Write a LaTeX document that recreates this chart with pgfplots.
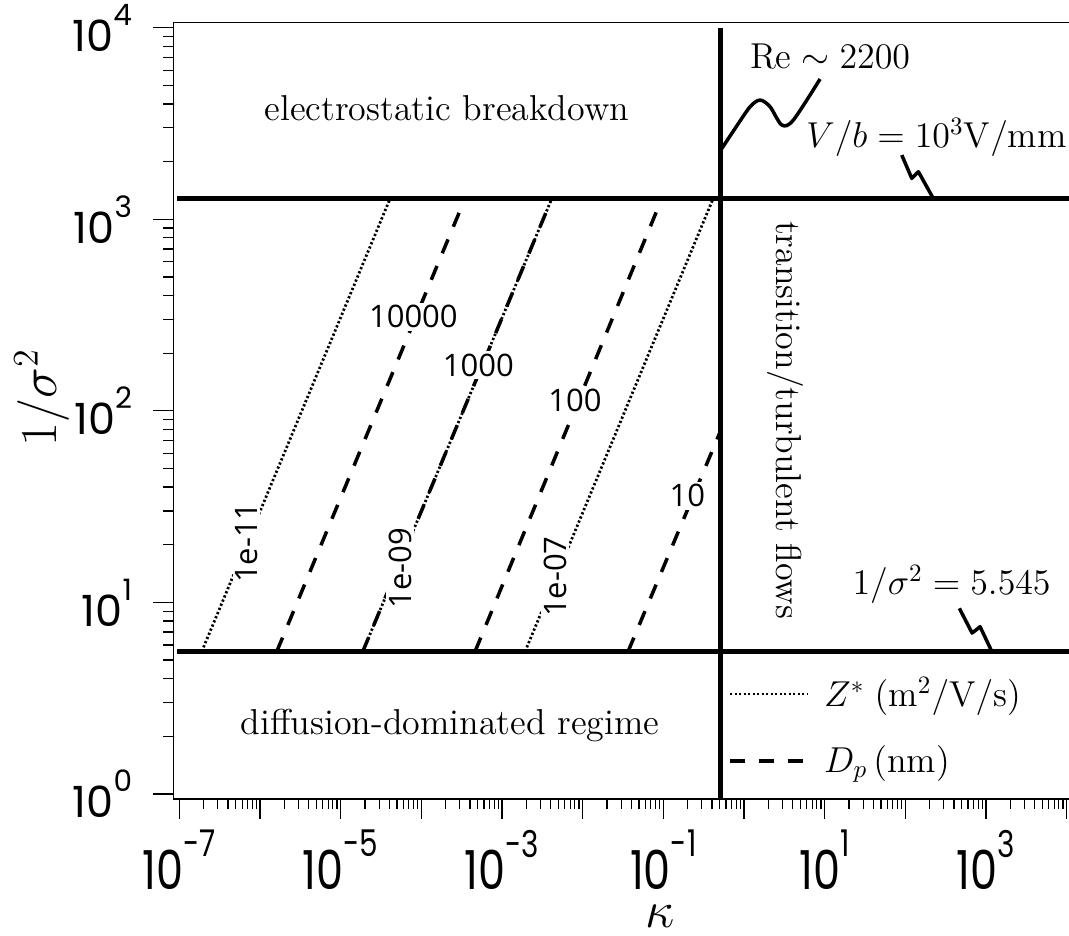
\documentclass[border=0pt]{standalone}
\usepackage{fontspec}
\usepackage{pgfplots}
\pgfplotsset{compat=1.18}
\newfontfamily\tickfont{Poppins}
\newfontfamily\clabfont{Open Sans}
\newcommand\annot{\fontsize{14.4}{17}\selectfont}
\newcommand\tlab[1]{{\tickfont\fontsize{17.2}{19}\selectfont 10\raisebox{10.4pt}{\fontsize{11.8}{12}\selectfont #1}}}

\tikzset{
  zstyle/.style={black, line width=1.1pt, dash pattern=on 0.9pt off 0.9pt},
  dstyle/.style={black, line width=1.4pt, dash pattern=on 6pt off 5.5pt},
  bound/.style={black, line width=2pt},
  clab/.style={font=\clabfont\fontsize{12.4}{14}\selectfont, fill=white, inner sep=1pt},
}

% minor ticks at 2..9 of every decade
\def\mxt{1e-7}
\foreach \ex in {-7,...,3}{\foreach \m in {2,...,9}{\xdef\mxt{\mxt,\m e\ex}}}
\def\myt{1}
\foreach \ex in {0,...,3}{\foreach \m in {2,...,9}{\xdef\myt{\myt,\m e\ex}}}

\begin{document}
\begin{tikzpicture}
\useasboundingbox (-69.33pt,-54.8pt) rectangle (358.28pt,319.6pt);
\begin{axis}[
  scale only axis, width=358.28pt, height=310.68pt,
  clip mode=individual,
  xmode=log, ymode=log, log basis x=10, log basis y=10,
  xmin=8.414e-8, xmax=10691, ymin=0.9419, ymax=10666,
  axis x line*=bottom, axis y line*=left,
  axis line style={line width=0.5pt},
  tick align=outside,
  major tick length=8pt, minor tick length=4pt,
  every tick/.style={black, line width=0.5pt},
  xtick={1e-7,1e-6,1e-5,1e-4,1e-3,1e-2,1e-1,1,10,100,1000,10000},
  ytick={1,10,100,1000,10000},
  minor xtick/.expanded={\mxt},
  minor ytick/.expanded={\myt},
  xticklabel={\pgfmathtruncatemacro\ex{round(\tick)}\ifodd\ex\relax\tlab{\ex}\fi},
  yticklabel={\pgfmathtruncatemacro\ex{round(\tick)}\tlab{\ex}},
  xticklabel style={yscale=1.25},
  yticklabel style={xshift=-5pt},
  ylabel={$1/\sigma^2$},
  every axis y label/.style={at={(rel axis cs:-0.1466,0.517)}, anchor=center, rotate=90, font=\fontsize{20.74}{24}\selectfont},
  legend style={draw=none, fill=none, at={(0.619,0.1635)}, anchor=north west,
    font=\annot, row sep=10pt, column sep=4pt, inner sep=0pt, cells={anchor=west}},
  legend image code/.code={\draw[#1] (0pt,0pt) -- (31pt,0pt);},
]
% boundaries
\addplot[bound, forget plot] coordinates {(9.4e-8,1281) (10691,1281)};
\addplot[bound, forget plot] coordinates {(9.4e-8,5.545) (10691,5.545)};
\addplot[bound, forget plot] coordinates {(0.515,0.9419) (0.515,10000)};

% contours
\addplot[zstyle, forget plot] coordinates {(1.897e-7,5.545) (4.093e-5,1281)}; % 1e-11
\addplot[dstyle, forget plot] coordinates {(1.614e-6,5.545) (3.475e-4,1281)}; % 10000
\addplot[zstyle, forget plot] coordinates {(1.879e-5,5.545) (4.140e-3,1281)}; % 1e-09
\addplot[dstyle, forget plot] coordinates {(1.879e-5,5.545) (4.140e-3,1281)}; % 1000
\addplot[dstyle, forget plot] coordinates {(4.634e-4,5.545) (9.572e-2,1281)}; % 100
\addplot[zstyle, forget plot] coordinates {(1.932e-3,5.545) (0.4140,1281)};   % 1e-07
\addplot[dstyle, forget plot] coordinates {(3.656e-2,5.545) (0.515,79)};      % 10

% callouts
\addplot[black, line width=1.4pt, smooth, forget plot] coordinates {
  (0.515,2296) (0.776,2980) (1.189,3864) (1.581,4188) (2.104,3864)
  (2.938,3105) (4.093,3296) (8.77,5395)};
\addplot[black, line width=1.4pt, line join=round, forget plot] coordinates {
  (90.3,2163) (120.2,1634) (145.2,1770) (222.8,1281)};
\addplot[black, line width=1.4pt, line join=round, forget plot] coordinates {
  (467.7,9.31) (673,6.92) (845,7.47) (1180,5.545)};

\addlegendimage{zstyle}
\addlegendentry{$Z^*\;(\mathrm{m}^2/\mathrm{V}/\mathrm{s})$}
\addlegendimage{dstyle}
\addlegendentry{$D_p\,(\mathrm{nm})$}

% contour labels
\node[clab, rotate=90] at (axis cs:6.85e-7,20.5) {1e-11};
\node[clab, rotate=90] at (axis cs:5.45e-5,15.07) {1e-09};
\node[clab, rotate=90] at (axis cs:4.55e-3,13.62) {1e-07};
\node[clab] at (axis cs:7.96e-5,309.9) {10000};
\node[clab] at (axis cs:5.09e-4,173.4) {1000};
\node[clab] at (axis cs:8.05e-3,113) {100};
\node[clab] at (axis cs:0.1986,36.06) {10};

% annotations
\node[font=\annot] at (axis cs:2.08e-4,3804) {electrostatic breakdown};
\node[font=\annot] at (axis cs:2.27e-4,2.264) {diffusion-dominated regime};
\node[font=\annot, rotate=-90] at (axis cs:3.23,89.5) {transition/turbulent flows};
\node[font=\annot] at (axis cs:11.67,7027) {$\mathrm{Re}\sim 2200$};
\node[font=\annot] at (axis cs:244,2686) {$V/b=10^3\mathrm{V}/\mathrm{mm}$};
\node[font=\annot] at (axis cs:375,12.47) {$1/\sigma^2=5.545$};

% x-axis label
\node[font=\fontsize{20.74}{24}\selectfont, anchor=base, inner sep=0pt] at (rel axis cs:0.543,-0.1655) {$\kappa$};

\draw[line width=0.5pt] (rel axis cs:0,1) -- (rel axis cs:1,1);
\end{axis}
\end{tikzpicture}
\end{document}
